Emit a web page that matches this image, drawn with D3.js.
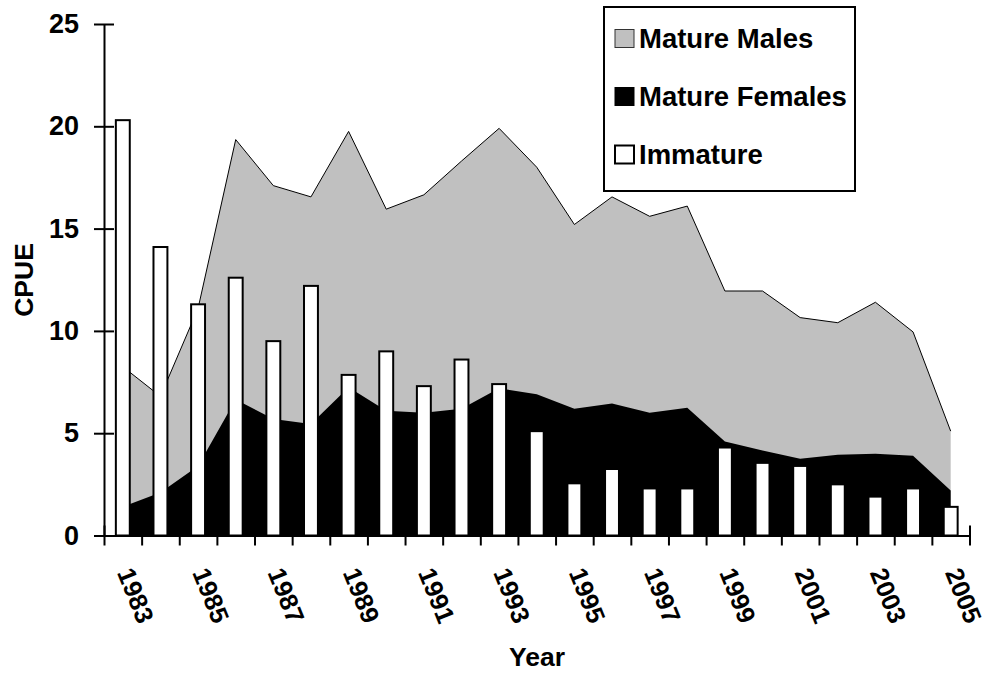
<!DOCTYPE html>
<html>
<head>
<meta charset="utf-8">
<script src="https://cdn.jsdelivr.net/npm/d3@7"></script>
<style>
  body { margin: 0; background: #fff; }
  svg text { font-family: Arial, "Liberation Sans", sans-serif; font-weight: bold; fill: #000; }
</style>
</head>
<body>
<div id="chart"></div>
<script>
"use strict";

/* values */
const years = [1983, 1984, 1985, 1986, 1987, 1988, 1989, 1990, 1991, 1992, 1993, 1994,
               1995, 1996, 1997, 1998, 1999, 2000, 2001, 2002, 2003, 2004, 2005];
const matureMales   = [8.25, 6.8, 11.1, 19.35, 17.1, 16.55, 19.75, 15.95, 16.65, 18.3, 19.9, 18.0,
                       15.2, 16.55, 15.6, 16.1, 11.95, 11.95, 10.65, 10.4, 11.4, 9.95, 5.1];
const matureFemales = [1.4, 2.1, 3.4, 6.65, 5.7, 5.45, 7.25, 6.1, 6.0, 6.2, 7.2, 6.9,
                       6.2, 6.45, 6.0, 6.25, 4.6, 4.15, 3.75, 3.95, 4.0, 3.9, 2.2];
const immature      = [20.3, 14.1, 11.3, 12.6, 9.5, 12.2, 7.85, 9.0, 7.3, 8.6, 7.4, 5.1,
                       2.55, 3.25, 2.3, 2.3, 4.3, 3.55, 3.4, 2.5, 1.9, 2.3, 1.4];
const yTicks = [0, 5, 10, 15, 20, 25];
const yearLabels = years.filter(function(d, i) { return i % 2 === 0; });
const legendLabels = ["Mature Males", "Mature Females", "Immature"];

// CPUE chart "Class"
const CpueChart = function(){

  let chart = {};

  function initialize(div_id) {
    chart.domObj = d3.select(div_id);
    chart.width  = 984;
    chart.height = 675;

    chart.domObj.selectAll("*").remove();

    chart.svg = chart.domObj
      .append("svg")
      .attr("width", chart.width)
      .attr("height", chart.height)
    ;

    /* plot area borders */
    chart.left   = 104;
    chart.right  = 969.5;
    chart.top    = 24;
    chart.bottom = 535.5;
  }

  function render() {

    /* category scale, one band per year */
    chart.xScale = d3.scaleBand()
      .domain(years)
      .range([chart.left, chart.right])
      .padding(0)
    ;
    /* band edges, for the tick marks between categories */
    chart.xEdge = d3.scaleLinear()
      .domain([0, years.length])
      .range([chart.left, chart.right])
    ;
    chart.yScale = d3.scaleLinear()
      .domain([0, 25])
      .range([chart.bottom, chart.top])
    ;

    const xc = function(d, i) { return chart.xScale(years[i]) + chart.xScale.bandwidth() / 2; };

    /* Mature males: grey area with a thin outline */
    chart.svg.append("path")
      .datum(matureMales)
      .attr("d", d3.area().x(xc).y0(chart.yScale(0)).y1(function(d) { return chart.yScale(d); }))
      .attr("fill", "#c0c0c0")
    ;
    chart.svg.append("path")
      .datum(matureMales)
      .attr("d", d3.line().x(xc).y(function(d) { return chart.yScale(d); }))
      .attr("fill", "none")
      .attr("stroke", "#000")
      .attr("stroke-width", 1)
    ;

    /* Mature females: black area */
    chart.svg.append("path")
      .datum(matureFemales)
      .attr("d", d3.area().x(xc).y0(chart.yScale(0)).y1(function(d) { return chart.yScale(d); }))
      .attr("fill", "#000")
    ;

    /* Immature: white columns */
    const barWidth = chart.xScale.bandwidth() * 0.37;
    chart.svg.selectAll(".bar")
      .data(immature)
      .enter().append("rect")
      .attr("class", "bar")
      .attr("x", function(d, i) { return xc(d, i) - barWidth / 2; })
      .attr("y", function(d) { return chart.yScale(d); })
      .attr("width", barWidth)
      .attr("height", function(d) { return chart.yScale(0) - chart.yScale(d); })
      .attr("fill", "#fff")
      .attr("stroke", "#000")
      .attr("stroke-width", 2)
    ;

    /* Y axis with crossing ticks */
    let yAxis = chart.svg.append("g")
      .attr("transform", "translate(" + chart.left + ",0)")
      .call(d3.axisLeft(chart.yScale).tickValues(yTicks).tickSizeInner(10).tickSizeOuter(0).tickPadding(15))
    ;
    yAxis.select(".domain").attr("stroke-width", 2);
    yAxis.selectAll(".tick line").attr("x1", 10).attr("stroke-width", 2);
    yAxis.selectAll(".tick text")
      .style("font-size", "27px")
      .attr("font-family", null)
    ;

    /* X axis: ticks between the categories */
    let xAxis = chart.svg.append("g")
      .attr("transform", "translate(0," + chart.bottom + ")")
      .call(d3.axisBottom(chart.xEdge).ticks(years.length).tickFormat("").tickSizeInner(10).tickSizeOuter(0))
    ;
    xAxis.select(".domain").attr("stroke-width", 2);
    xAxis.selectAll(".tick line").attr("y1", -10).attr("stroke-width", 2);

    /* year labels, every second year, rotated */
    let xLabels = chart.svg.append("g")
      .attr("transform", "translate(0," + chart.bottom + ")")
      .call(d3.axisBottom(chart.xScale).tickValues(yearLabels).tickSize(0))
    ;
    xLabels.select(".domain").remove();
    xLabels.selectAll(".tick text")
      .attr("x", 0)
      .attr("y", 0)
      .attr("dy", null)
      .attr("text-anchor", "start")
      .attr("transform", "translate(-6,37) rotate(68)")
      .style("font-size", "25.5px")
      .attr("font-family", null)
    ;

    /* axis titles */
    chart.svg.append("text")
      .attr("transform", "translate(33,280) rotate(-90)")
      .attr("text-anchor", "middle")
      .style("font-size", "26.5px")
      .text("CPUE")
    ;
    chart.svg.append("text")
      .attr("x", 537)
      .attr("y", 666)
      .attr("text-anchor", "middle")
      .style("font-size", "26.5px")
      .text("Year")
    ;

    render_legend();
  }

  function render_legend() {
    const fills   = ["#c0c0c0", "#000", "#fff"];
    const strokes = ["#333", "#000", "#000"];
    const legendY = d3.scalePoint().domain(legendLabels).range([47.5, 163.5]);

    let legend = chart.svg.append("g").attr("class", "legend");

    legend.append("rect")
      .attr("x", 604)
      .attr("y", 7)
      .attr("width", 251)
      .attr("height", 184)
      .attr("fill", "#fff")
      .attr("stroke", "#000")
      .attr("stroke-width", 2)
    ;

    let item = legend.selectAll(".item")
      .data(legendLabels)
      .enter().append("g")
      .attr("class", "item")
      .attr("transform", function(d) { return "translate(0," + legendY(d) + ")"; })
    ;
    item.append("rect")
      .attr("x", 615)
      .attr("y", -18)
      .attr("width", 19)
      .attr("height", 18)
      .attr("fill", function(d, i) { return fills[i]; })
      .attr("stroke", function(d, i) { return strokes[i]; })
      .attr("stroke-width", function(d, i) { return i === 2 ? 2 : 1; })
    ;
    item.append("text")
      .attr("x", 639)
      .attr("y", 0)
      .style("font-size", "27.5px")
      .text(function(d) { return d; })
    ;
  }

  return {
    init   : initialize,
    render : render
  };
};

const cpueChart = CpueChart();
cpueChart.init("#chart");
cpueChart.render();
</script>
</body>
</html>
